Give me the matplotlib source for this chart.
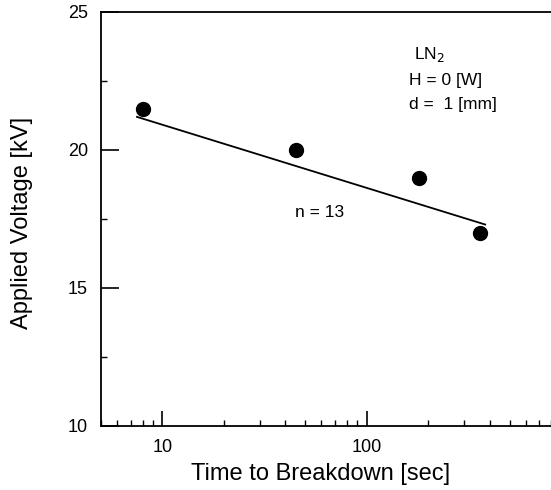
import numpy as np
import matplotlib
matplotlib.use("Agg")
import matplotlib.pyplot as plt
from matplotlib.ticker import FixedLocator, LogLocator, NullFormatter

plt.rcParams['font.family'] = ['Liberation Sans', 'DejaVu Sans']

# measured breakdown points
time_s = [8, 45, 180, 360]
volt_kv = [21.5, 20.0, 19.0, 17.0]

# fitted V-t line (end points)
fit_t = [7.5, 380]
fit_v = [21.2, 17.3]

x_ticks = [10, 100]
x_ticklabels = ['10', '100']
y_ticks = [10, 15, 20, 25]
y_minor = [12.5, 17.5, 22.5]

W, H = 551, 490
fig = plt.figure(figsize=(W / 100, H / 100), dpi=100)
# axes runs past the right edge like the scanned original
ax = fig.add_axes([101 / W, 1 - 426 / H, 470 / W, 414 / H])

ax.plot(fit_t, fit_v, color='black', lw=1.3)
ax.plot(time_s, volt_kv, 'o', color='black', markersize=10)

ax.set_xscale('log')
ax.set_xlim(5, 1000)
ax.set_ylim(10, 25)

ax.xaxis.set_major_locator(FixedLocator(x_ticks))
ax.set_xticklabels(x_ticklabels)
ax.xaxis.set_minor_locator(LogLocator(base=10, subs=np.arange(2, 10)))
ax.xaxis.set_minor_formatter(NullFormatter())
ax.set_yticks(y_ticks)
ax.yaxis.set_minor_locator(FixedLocator(y_minor))

ax.tick_params(which='major', direction='in', width=1.2, labelsize=13)
ax.tick_params(which='minor', direction='in', length=4.3, width=1.0)
ax.tick_params(axis='y', which='major', length=13, pad=9.5)
ax.tick_params(axis='x', which='major', length=11, pad=9)
ax.tick_params(top=False, right=False, which='both')

for side in ['left', 'top', 'bottom']:
    ax.spines[side].set_linewidth(1.3)
ax.spines['right'].set_visible(False)

ax.set_xlabel('Time to Breakdown [sec]', fontsize=17)
ax.xaxis.set_label_coords(0.468, -0.09)
ax.set_ylabel('Applied Voltage [kV]', fontsize=17)
ax.yaxis.set_label_coords(-0.145, 0.49)


def note(px, py, s):
    # position in pixels measured from the top-left of the picture
    fig.text(px / W, 1 - py / H, s, fontsize=12.5, va='center')


note(414, 55, r'LN$_2$')
note(409, 80, 'H = 0 [W]')
note(409, 104, 'd =  1 [mm]')
note(295, 212, 'n = 13')

fig.savefig('out.png', dpi=100)
